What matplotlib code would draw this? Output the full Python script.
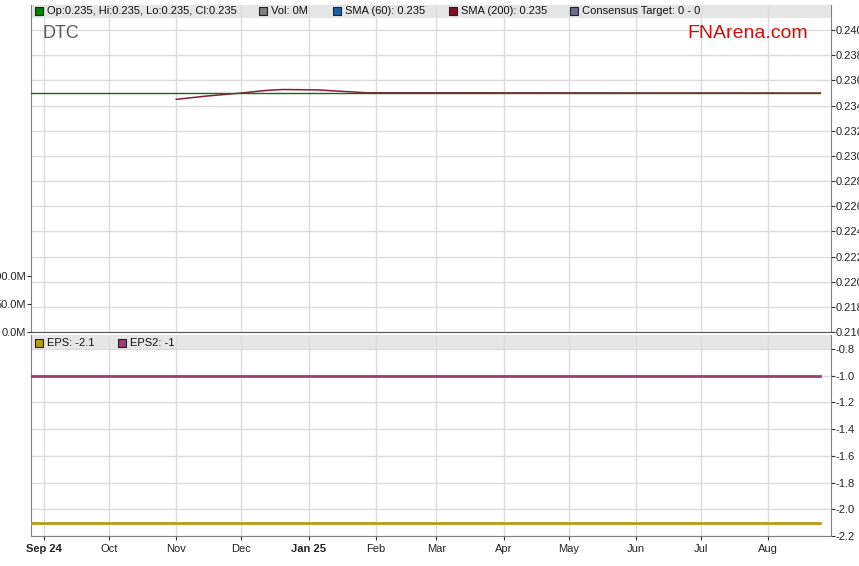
import matplotlib
matplotlib.use("Agg")
import matplotlib.pyplot as plt
from matplotlib.patches import Rectangle
import pandas as pd

# ---------------- data ----------------
start_date = "2024-08-26"
end_date = "2025-08-25"
price_value = 0.235
sma200_dates = ["2024-11-01", "2024-11-15", "2024-12-01", "2024-12-12", "2024-12-20",
                "2025-01-05", "2025-01-15", "2025-01-28", "2025-08-25"]
sma200_values = [0.23450, 0.23476, 0.23500, 0.23520, 0.23528,
                 0.23525, 0.23515, 0.23502, 0.23500]
eps_value = -2.1
eps2_value = -1.0
month_ticks = ["2024-09-01", "2024-10-01", "2024-11-01", "2024-12-01", "2025-01-01",
               "2025-02-01", "2025-03-01", "2025-04-01", "2025-05-01", "2025-06-01",
               "2025-07-01", "2025-08-01"]
month_labels = ["Sep 24", "Oct", "Nov", "Dec", "Jan 25", "Feb", "Mar", "Apr",
                "May", "Jun", "Jul", "Aug"]
bold_labels = ["Sep 24", "Jan 25"]
price_ticks = [0.216, 0.218, 0.220, 0.222, 0.224, 0.226, 0.228, 0.230, 0.232,
               0.234, 0.236, 0.238, 0.240]
vol_ticks = [0, 50e6, 100e6]
vol_labels = ["0.0M", "50.0M", "100.0M"]
eps_ticks = [-0.8, -1.0, -1.2, -1.4, -1.6, -1.8, -2.0, -2.2]
legend_top = [("Op:0.235, Hi:0.235, Lo:0.235, Cl:0.235", "#008000"),
              ("Vol: 0M", "#808080"),
              ("SMA (60): 0.235", "#1f5f9f"),
              ("SMA (200): 0.235", "#7a0f2a"),
              ("Consensus Target: 0 - 0", "#6a6a90")]
legend_top_x = [35, 259, 333, 449, 570]
legend_bot = [("EPS: -2.1", "#b89a10"), ("EPS2: -1", "#9a3f72")]
legend_bot_x = [35, 118]

# ---------------- figure ----------------
W, H = 859, 566
plt.rcParams['font.family'] = ['Liberation Sans', 'DejaVu Sans']
fig = plt.figure(figsize=(W / 100, H / 100), dpi=100)

def fx(px):
    return px / W

def fy(py):
    return 1 - py / H

ax1 = fig.add_axes([fx(31), fy(332), fx(831) - fx(31), fy(5) - fy(332)])
ax2 = fig.add_axes([fx(31), fy(536), fx(831) - fx(31), fy(335) - fy(536)])

# volume axis on left (twin of upper panel)
axv = ax1.twinx()

dates = pd.bdate_range(start_date, end_date)
xlim = (pd.Timestamp("2024-08-26"), pd.Timestamp("2025-08-30"))
grid_c = "#dcdcdc"
spine_c = "#808080"

mt = pd.to_datetime(month_ticks)

for ax in (ax1, ax2):
    ax.set_xlim(xlim)
    ax.set_xticks(mt)
    ax.set_axisbelow(True)
    ax.grid(True, color=grid_c, linewidth=1)
    ax.spines["top"].set_visible(False)
    for s in ("left", "right", "bottom"):
        ax.spines[s].set_color(spine_c)
    ax.yaxis.set_ticks_position("right")
    ax.yaxis.set_label_position("right")
    ax.tick_params(axis="y", which="both", left=False, labelleft=False,
                   right=True, labelright=True, length=3, color="#333333",
                   labelsize=8, pad=0.5, labelcolor="#222222")

# ----- upper panel -----
ax1.set_ylim(0.216, 0.242)
ax1.set_yticks(price_ticks)
ax1.set_yticklabels([f"{v:.3f}" for v in price_ticks])
ax1.tick_params(axis="x", length=0, labelbottom=False)
ax1.spines["bottom"].set_color("#555555")

sd = pd.to_datetime(sma200_dates)
ax1.plot(sd, sma200_values, color="#8b1a3a", linewidth=1.1, zorder=3)
ax1.plot(dates, [price_value] * len(dates), color="#0a6e0a", linewidth=1.0, zorder=4)

axv.set_ylim(0, 584e6)
axv.set_yticks(vol_ticks)
axv.set_yticklabels(vol_labels)
axv.tick_params(axis="y", left=True, labelleft=True, right=False, labelright=False,
                length=3, color="#333333", labelsize=8, pad=0.5, labelcolor="#222222")
for s in axv.spines.values():
    s.set_visible(False)

# header band upper
band_h1 = 13 / 327
ax1.add_patch(Rectangle((0, 1 - band_h1), 1, band_h1, transform=ax1.transAxes,
                        facecolor="#e6e6e6", edgecolor="none", zorder=0.5))

axw = fx(831) - fx(31)
ax1.text(fx(42 - 31) / axw, 1 - (33 - 5) / 327, "DTC",
         transform=ax1.transAxes, fontsize=13, color="#5a5a5a", va="center", ha="left")
ax1.text(fx(808 - 31) / axw, 1 - (33 - 5) / 327, "FNArena.com",
         transform=ax1.transAxes, fontsize=14, color="#cc1010", va="center", ha="right")

def legend_items(items, xs, ycen):
    for (label, col), x in zip(items, xs):
        fig.add_artist(Rectangle((fx(x), fy(ycen + 4)), 8 / W, 8 / H,
                                 transform=fig.transFigure, facecolor=col,
                                 edgecolor="#222222", linewidth=0.8))
        fig.text(fx(x + 12), fy(ycen), label, fontsize=8, color="#111111",
                 va="center", ha="left")

legend_items(legend_top, legend_top_x, 11)

# ----- lower panel -----
ax2.set_ylim(-2.2, -0.695)
ax2.set_yticks(eps_ticks)
ax2.set_yticklabels([f"{v:.1f}" for v in eps_ticks])
band_h2 = 15 / 201
ax2.add_patch(Rectangle((0, 1 - band_h2), 1, band_h2, transform=ax2.transAxes,
                        facecolor="#e6e6e6", edgecolor="none", zorder=0.5))
ax2.plot(dates, [eps2_value] * len(dates), color="#9a3f72", linewidth=2, zorder=3)
ax2.plot(dates, [eps_value] * len(dates), color="#b89a10", linewidth=2, zorder=3)
ax2.set_xticklabels(month_labels)
ax2.tick_params(axis="x", length=3, color="#333333", labelsize=8, pad=2.5,
                labelcolor="#222222")
for lbl in ax2.get_xticklabels():
    if lbl.get_text() in bold_labels:
        lbl.set_fontweight("bold")

legend_items(legend_bot, legend_bot_x, 343)

fig.savefig("out.png", dpi=100)
